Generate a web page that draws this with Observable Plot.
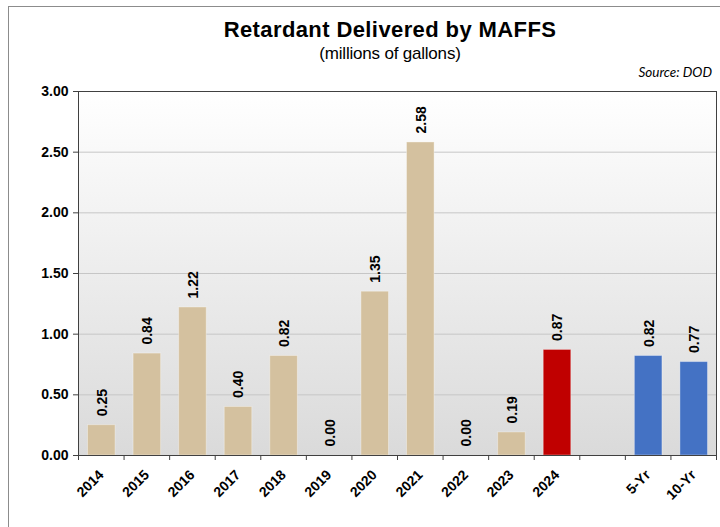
<!DOCTYPE html>
<html>
<head>
<meta charset="utf-8">
<script src="https://cdn.jsdelivr.net/npm/d3@7"></script>
<script src="https://cdn.jsdelivr.net/npm/@observablehq/plot@0.6"></script>
<style>
  body { margin: 0; background: #ffffff; }
  #wrap { position: relative; width: 720px; height: 527px; overflow: hidden; font-family: "Liberation Sans", Arial, sans-serif; }
  #border { position: absolute; left: 8px; top: 6px; width: 800px; height: 600px; border: 1px solid #8c8c8c; box-sizing: border-box; }
  .t { position: absolute; left: 0; width: 780px; text-align: center; line-height: 1; white-space: nowrap; color: #000; }
  #title { top: 19px; font-size: 22px; font-weight: bold; letter-spacing: 0.4px; }
  #subtitle { top: 45px; font-size: 17px; letter-spacing: -0.2px; }
  #source { position: absolute; right: 8px; top: 66px; font-family: Lato, "Open Sans", sans-serif; font-style: italic; font-size: 13.5px; line-height: 1; color: #000; }
  #wrap svg { position: absolute; left: 0; top: 0; }
</style>
</head>
<body>
<div id="wrap">
  <div id="border"></div>
  <div class="t" id="title">Retardant Delivered by MAFFS</div>
  <div class="t" id="subtitle">(millions of gallons)</div>
  <div id="source">Source: DOD</div>
</div>
<script>
// ---- data ----
const categories = ["2014", "2015", "2016", "2017", "2018", "2019", "2020", "2021", "2022", "2023", "2024", "", "5-Yr", "10-Yr"];
const values = [0.25, 0.84, 1.22, 0.40, 0.82, 0.00, 1.35, 2.58, 0.00, 0.19, 0.87, null, 0.82, 0.77];
const kinds = ["annual", "annual", "annual", "annual", "annual", "annual", "annual", "annual", "annual", "annual", "current", null, "average", "average"];
const yTicks = [0, 0.5, 1.0, 1.5, 2.0, 2.5, 3.0];

const kindDomain = ["annual", "current", "average"];
const kindColors = ["#d4c19f", "#c00000", "#4472c4"];

const labels = categories.map((c, i) => ({ i, cat: c }));
const bars = categories
  .map((c, i) => ({ i, cat: c, value: values[i], kind: kinds[i] }))
  .filter(d => d.value != null);

const fmt = d3.format(".2f");

const gradient = () => {
  const ns = "http://www.w3.org/2000/svg";
  const defs = document.createElementNS(ns, "defs");
  defs.innerHTML = '<linearGradient id="plotbg" x1="0" y1="0" x2="0" y2="1">' +
    '<stop offset="0" stop-color="#ffffff"/><stop offset="1" stop-color="#dadada"/></linearGradient>';
  return defs;
};

const chart = Plot.plot({
  width: 720,
  height: 527,
  marginLeft: 78,
  marginRight: 4,
  marginTop: 91,
  marginBottom: 72,
  style: { fontFamily: "'Liberation Sans', Arial, sans-serif", background: "transparent", color: "#000" },
  x: { type: "linear", domain: [0, categories.length], axis: null },
  y: { domain: [0, 3], axis: null },
  color: { type: "ordinal", domain: kindDomain, range: kindColors },
  marks: [
    gradient,
    Plot.frame({ fill: "url(#plotbg)", stroke: "none" }),
    Plot.gridY(yTicks, { stroke: "#c6c6c6", strokeOpacity: 1 }),
    Plot.rect(bars, {
      x1: "i", x2: d => d.i + 1, y1: 0, y2: "value",
      fill: "kind", stroke: "#ffffff", strokeOpacity: 0.35, strokeWidth: 1,
      insetLeft: 9.5, insetRight: 8.5
    }),
    Plot.frame({ stroke: "#404040", strokeWidth: 1 }),
    Plot.axisY(yTicks, {
      tickFormat: fmt, tickSize: 5, tickPadding: 5, label: null,
      fontSize: 14, fontWeight: "bold", stroke: "#404040"
    }),
    Plot.axisX(d3.range(0, categories.length + 1), {
      tickFormat: () => "", tickSize: 5, label: null, stroke: "#404040"
    }),
    Plot.text(labels, {
      x: d => d.i + 0.5, y: 0, text: "cat", rotate: -45, textAnchor: "end",
      dx: 0, dy: 17, fontSize: 14, fontWeight: "bold", fill: "#000"
    }),
    Plot.text(bars, {
      x: d => d.i + 0.5, y: "value", text: d => fmt(d.value), rotate: -90,
      textAnchor: "start", dx: 1, dy: -9, fontSize: 14, fontWeight: "bold", fill: "#000"
    })
  ]
});

document.getElementById("wrap").appendChild(chart);
</script>
</body>
</html>
